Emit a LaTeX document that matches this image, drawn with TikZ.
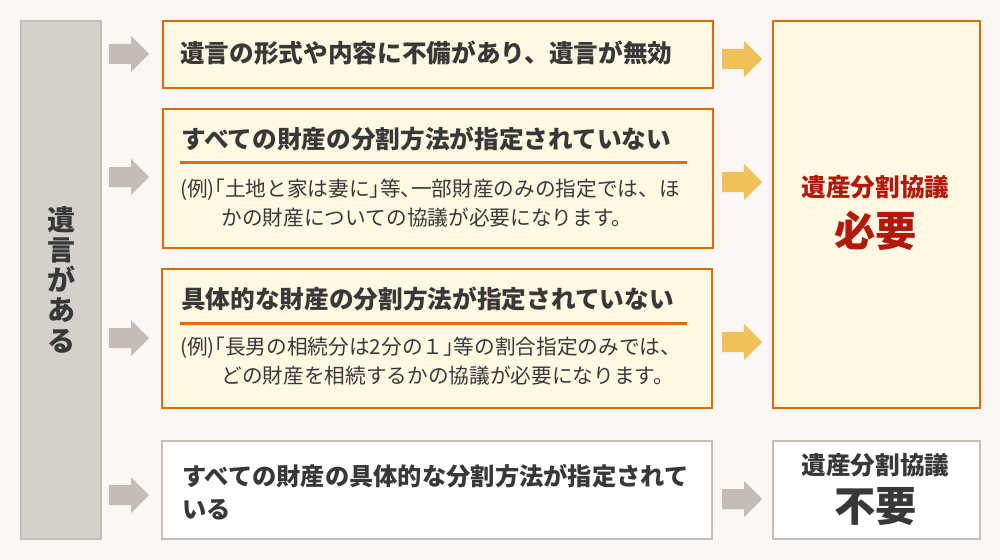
\documentclass[tikz,border=0pt]{standalone}
\usepackage{fontspec}
\setmainfont{Noto Sans CJK JP}
\usetikzlibrary{calc}
\definecolor{bgcol}{HTML}{FAF7F4}
\definecolor{barfill}{HTML}{D4D0CC}
\definecolor{boxgray}{HTML}{C5BFB9}
\definecolor{orangeline}{HTML}{E06A0C}
\definecolor{creamfill}{HTML}{FFF9E3}
\definecolor{arrowyellow}{HTML}{F0C05B}
\definecolor{arrowgray}{HTML}{C4BDB7}
\definecolor{redtext}{HTML}{B2180C}
\definecolor{darktext}{HTML}{383838}
% half-width punctuation
\newcommand\jphalf[1]{{\addfontfeature{RawFeature=+halt}#1}}

\begin{document}
\begin{tikzpicture}[x=0.75pt,y=-0.75pt,
  every node/.style={text=darktext,inner sep=0pt},
  condbox/.style={draw=orangeline,fill=creamfill,line width=1.5pt,anchor=north west,minimum width=412.5pt},
  plainbox/.style={draw=boxgray,fill=white,line width=1.5pt,anchor=north west},
  titletext/.style={anchor=west,font=\bfseries\fontsize{18.5pt}{24.75pt}\selectfont},
  bodytext/.style={anchor=west,align=left,font=\fontsize{15.5pt}{21.75pt}\selectfont},
  ruleline/.style={draw=orangeline,line width=2.25pt},
  blockarrow/.pic={\fill (0,-10) -- (22,-10) -- (22,-18) -- (40,0) -- (22,18) -- (22,10) -- (0,10) -- cycle;}]
  \fill[bgcol] (0,0) rectangle (1000,560);
  \useasboundingbox (0,0) rectangle (1000,560);

  % left bar
  \node[draw=boxgray,fill=barfill,line width=1.5pt,anchor=north west,minimum width=60pt,minimum height=388.5pt] (bar) at (20,20) {};
  \node[align=center,font=\bfseries\fontsize{21pt}{22.7pt}\selectfont] (barlabel) at (61,279.5) {遺\\言\\が\\あ\\る};

  % condition boxes
  \node[condbox,minimum height=50.25pt] (box1) at (162,20) {};
  \node[titletext] (box1title) at (180,53) {遺言の形式や内容に不備があり、遺言が無効};

  \node[condbox,minimum height=104.25pt] (box2) at (162,108) {};
  \node[titletext] (box2title) at (181,139) {すべての財産の分割方法が指定されていない};
  \coordinate (rule2a) at (180,162.5);
  \coordinate (rule2b) at (687,162.5);
  \draw[ruleline] (rule2a) -- (rule2b);
  \node[bodytext] (box2body) at (180,203.5) {(例)\jphalf{「}土地と家は妻に\jphalf{」}等\jphalf{、}一部財産のみの指定では、ほ\\\hspace*{2em}かの財産についての協議が必要になります。};

  \node[condbox,minimum height=104.25pt] (box3) at (161,268) {};
  \node[titletext] (box3title) at (181,299) {具体的な財産の分割方法が指定されていない};
  \coordinate (rule3a) at (180,323);
  \coordinate (rule3b) at (687,323);
  \draw[ruleline] (rule3a) -- (rule3b);
  \node[bodytext] (box3body) at (180,361.5) {(例)\jphalf{「}長男の相続分は2分の１\jphalf{」}等の割合指定のみでは、\\\hspace*{2em}どの財産を相続するかの協議が必要になります。};

  \node[plainbox,minimum width=412.5pt,minimum height=73.5pt] (box4) at (161,440) {};
  \node[titletext,align=left,font=\bfseries\fontsize{18.2pt}{24.75pt}\selectfont] (box4title) at (182,492.5) {すべての財産の具体的な分割方法が指定されて\\いる};

  % result boxes
  \node[condbox,minimum width=155.25pt,minimum height=290.25pt] (needbox) at (772,20) {};
  \node[text=redtext,font=\bfseries\fontsize{18.5pt}{20pt}\selectfont] (needlabel) at (875.5,187) {遺産分割協議};
  \node[text=redtext,font=\bfseries\fontsize{31pt}{33pt}\selectfont] (needword) at (875.5,231) {必要};

  \node[plainbox,minimum width=155.25pt,minimum height=73.5pt] (noneedbox) at (772,440) {};
  \node[font=\bfseries\fontsize{18.5pt}{20pt}\selectfont] (noneedlabel) at (875.5,465) {遺産分割協議};
  \node[font=\bfseries\fontsize{31pt}{33pt}\selectfont] (noneedword) at (875.5,507) {不要};

  % arrows
  \pic[arrowgray] at (109,54) {blockarrow};
  \pic[arrowgray] at (109,177) {blockarrow};
  \pic[arrowgray] at (109,338) {blockarrow};
  \pic[arrowgray] at (109,495) {blockarrow};
  \pic[arrowyellow] at (722,59) {blockarrow};
  \pic[arrowyellow] at (722,182) {blockarrow};
  \pic[arrowyellow] at (722,342) {blockarrow};
  \pic[arrowgray] at (722,499) {blockarrow};
\end{tikzpicture}
\end{document}
